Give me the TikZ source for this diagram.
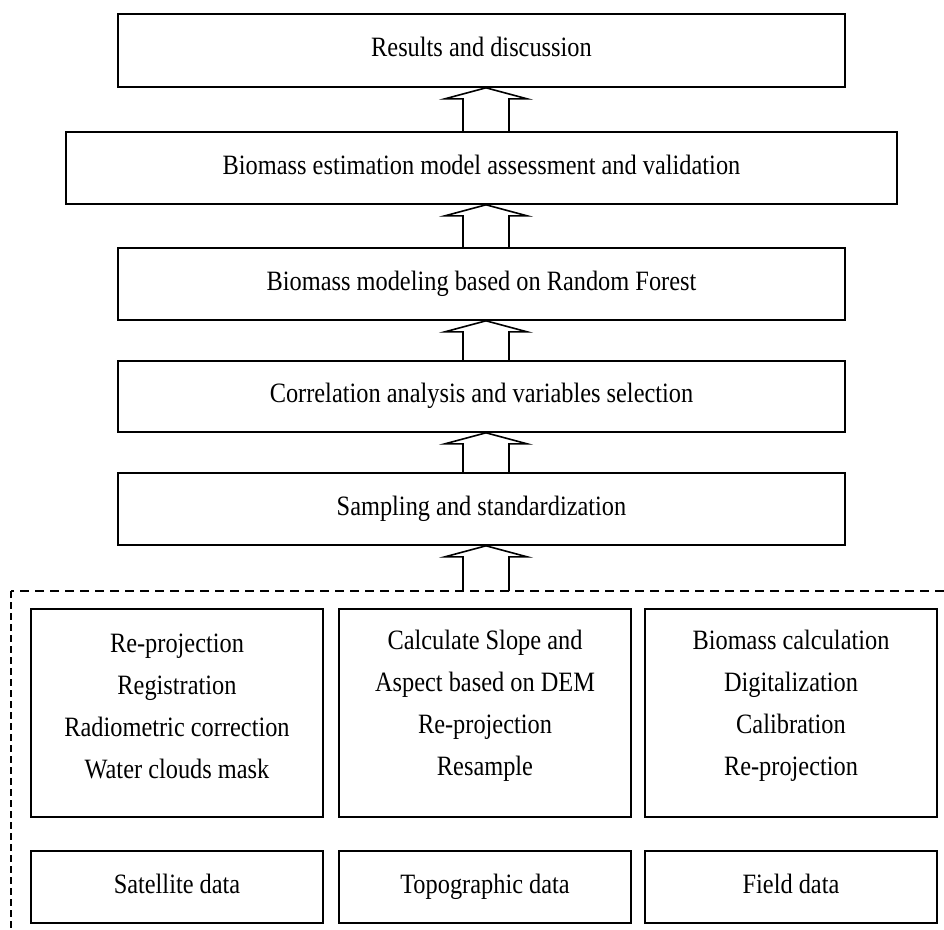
\documentclass[tikz,border=0pt]{standalone}
\usepackage{fontspec}
\setmainfont{Liberation Serif}[FakeStretch=0.87]
\usetikzlibrary{calc}
\tikzset{
  box/.style={draw=black, line width=1.6pt, fill=white, rectangle, inner sep=0pt,
    font=\fontsize{28}{43}\selectfont, align=center},
  one/.style={text height=19pt, text depth=7pt},
  blockarr/.style={draw=black, line width=1.6pt, line join=miter},
  frame/.style={draw=black, line width=1.3pt}
}
\newcommand\blockup[2]{% #1 lower end, #2 upper node
  \draw[blockarr]
    ($(#1 -| ax)+(-23,0)$) -- ($(#2.south -| ax)+(-23,11)$) --
    ($(#2.south -| ax)+(-41,11)$) -- (#2.south -| ax) --
    ($(#2.south -| ax)+(41,11)$) -- ($(#2.south -| ax)+(23,11)$) --
    ($(#1 -| ax)+(23,0)$);
}
\begin{document}
\begin{tikzpicture}[x=1pt, y=-1pt]
\useasboundingbox (0,0) rectangle (944,929);
\coordinate (ax) at (486,0);
% main chain
\node[box, one, minimum width=727pt, minimum height=73pt] (res) at (481.5,50.5) {Results and discussion};
\node[box, one, minimum width=831pt, minimum height=72pt] (val) at (481.5,168) {Biomass estimation model assessment and validation};
\node[box, one, minimum width=727pt, minimum height=72pt] (rf) at (481.5,284) {Biomass modeling based on Random Forest};
\node[box, one, minimum width=727pt, minimum height=71pt] (cor) at (481.5,396.5) {Correlation analysis and variables selection};
\node[box, one, minimum width=727pt, minimum height=72pt] (samp) at (481.5,509) {Sampling and standardization};
% dashed frame
\coordinate (fl) at (11,591);
\coordinate (fr) at (944,591);
\coordinate (fb) at (11,929);
\coordinate (dtop) at (486,591);
\draw[frame, dash pattern=on 9pt off 6pt] (fr) -- (fl);
\draw[frame, dash pattern=on 7pt off 4pt] (fl) -- (fb);
% arrows
\blockup{val.north}{res}
\blockup{rf.north}{val}
\blockup{cor.north}{rf}
\blockup{samp.north}{cor}
\blockup{dtop}{samp}
% processing boxes
\node[box, minimum width=292pt, minimum height=208pt] (pA) at (177,713) {};
\node[box, minimum width=292pt, minimum height=208pt] (pB) at (485,713) {};
\node[box, minimum width=292pt, minimum height=208pt] (pC) at (791,713) {};
\node[font=\fontsize{28}{42}\selectfont, align=center] (tA) at (177,706) {Re-projection\\Registration\\Radiometric correction\\Water clouds mask};
\node[font=\fontsize{28}{42}\selectfont, align=center] (tB) at (485,706) {Calculate Slope and\\Aspect based on DEM\\Re-projection\\Resample};
\node[font=\fontsize{28}{42}\selectfont, align=center] (tC) at (791,706) {Biomass calculation\\Digitalization\\Calibration\\Re-projection};
% data boxes
\node[box, one, minimum width=292pt, minimum height=72pt] (dA) at (177,887) {Satellite data};
\node[box, one, minimum width=292pt, minimum height=72pt] (dB) at (485,887) {Topographic data};
\node[box, one, minimum width=292pt, minimum height=72pt] (dC) at (791,887) {Field data};
\end{tikzpicture}
\end{document}
